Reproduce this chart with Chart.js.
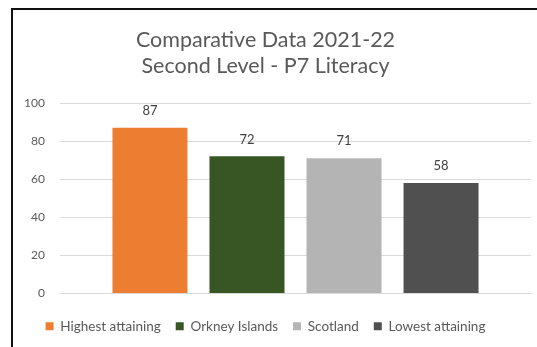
<!DOCTYPE html>
<html>
<head>
<meta charset="utf-8">
<script src="https://cdn.jsdelivr.net/npm/chart.js@4"></script>
<style>
  html, body { margin: 0; padding: 0; background: #fff; }
  #wrap { position: relative; width: 537px; height: 347px; }
  #frame { position: absolute; left: 11px; top: 8px; right: 0; bottom: 0;
           border-top: 2px solid #111; border-left: 2px solid #111; pointer-events: none; }
  canvas { position: absolute; left: 0; top: 0; }
</style>
</head>
<body>
<div id="wrap">
  <canvas id="c" width="537" height="347"></canvas>
  <div id="frame"></div>
</div>
<script>
const titleLines = ['Comparative Data 2021-22', 'Second Level - P7 Literacy'];
const seriesNames = ['Highest attaining', 'Orkney Islands', 'Scotland', 'Lowest attaining'];
const seriesValues = [87, 72, 71, 58];
const seriesColors = ['#ED7D31', '#375623', '#B4B4B4', '#505050'];
const categories = [''];
const yTicks = [0, 20, 40, 60, 80, 100];

const FONT = 'Lato, "Open Sans", sans-serif';

const datasets = seriesNames.map((name, i) => ({
  label: name,
  data: [seriesValues[i]],
  backgroundColor: seriesColors[i],
  borderWidth: 0,
  categoryPercentage: 0.824,
  barPercentage: 0.773
}));

const dataLabels = {
  id: 'dataLabels',
  afterDatasetsDraw(chart) {
    const ctx = chart.ctx;
    ctx.save();
    ctx.font = '13px ' + FONT;
    ctx.fillStyle = '#404040';
    ctx.textAlign = 'center';
    ctx.textBaseline = 'middle';
    chart.data.datasets.forEach((ds, i) => {
      const meta = chart.getDatasetMeta(i);
      meta.data.forEach((bar, j) => {
        ctx.fillText(String(ds.data[j]), bar.x, bar.y - 17);
      });
    });
    ctx.restore();
  }
};

new Chart(document.getElementById('c'), {
  type: 'bar',
  data: { labels: categories, datasets },
  options: {
    responsive: false,
    animation: false,
    devicePixelRatio: 1,
    layout: { padding: { left: 0, right: 6, top: 0, bottom: 4 } },
    plugins: {
      title: {
        display: true,
        text: titleLines,
        color: '#595959',
        font: { family: FONT, size: 21.5, weight: 'normal', lineHeight: 1.21 },
        padding: { top: 27, bottom: 24 }
      },
      legend: {
        position: 'bottom',
        labels: {
          boxWidth: 8,
          boxHeight: 8,
          padding: 15,
          color: '#595959',
          font: { family: FONT, size: 13.5 }
        }
      },
      tooltip: { enabled: false }
    },
    scales: {
      x: {
        grid: { display: false, drawTicks: false },
        border: { display: true, color: '#D9D9D9' },
        ticks: { display: false },
        afterFit: s => { s.height += 11; }
      },
      y: {
        min: 0,
        max: 100,
        afterBuildTicks: s => { s.ticks = yTicks.map(v => ({ value: v })); },
        afterFit: s => { s.width = 60; },
        grid: { color: '#D9D9D9', drawTicks: false },
        border: { display: false },
        ticks: { padding: 15, color: '#595959', font: { family: FONT, size: 12 } }
      }
    }
  },
  plugins: [dataLabels]
});
</script>
</body>
</html>
